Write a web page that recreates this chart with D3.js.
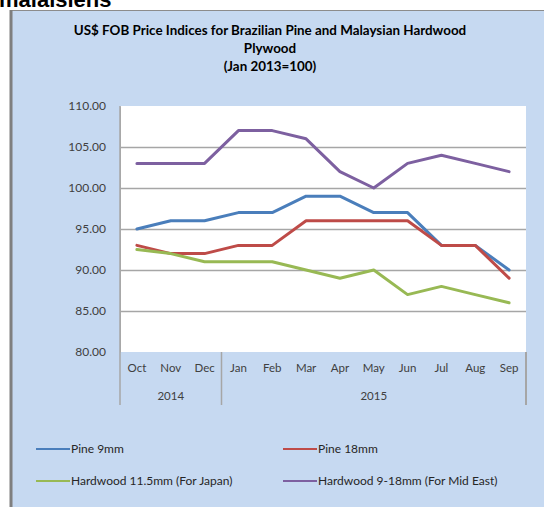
<!DOCTYPE html>
<html>
<head>
<meta charset="utf-8">
<script src="https://cdn.jsdelivr.net/npm/d3@7"></script>
<style>
  html, body { margin: 0; padding: 0; background: #fff; }
  svg { display: block; font-family: Lato, "Open Sans", sans-serif; }
</style>
</head>
<body>
<svg id="chart" width="544" height="507"></svg>
<script>
// data
const months = ["Oct", "Nov", "Dec", "Jan", "Feb", "Mar", "Apr", "May", "Jun", "Jul", "Aug", "Sep"];
const years = [
  { label: "2014", from: 0, to: 2 },
  { label: "2015", from: 3, to: 11 }
];
const pine9 = [95, 96, 96, 97, 97, 99, 99, 97, 97, 93, 93, 90];
const pine18 = [93, 92, 92, 93, 93, 96, 96, 96, 96, 93, 93, 89];
const hardwoodJapan = [92.5, 92, 91, 91, 91, 90, 89, 90, 87, 88, 87, 86];
const hardwoodMidEast = [103, 103, 103, 107, 107, 106, 102, 100, 103, 104, 103, 102];
const yTicks = [80, 85, 90, 95, 100, 105, 110];

const series = [
  { name: "Pine 9mm", values: pine9, color: "#4a7ebb" },
  { name: "Pine 18mm", values: pine18, color: "#be4b48" },
  { name: "Hardwood 11.5mm (For Japan)", values: hardwoodJapan, color: "#98b954" },
  { name: "Hardwood 9-18mm (For Mid East)", values: hardwoodMidEast, color: "#7d60a0" }
];

const svg = d3.select("#chart");

// heading above the chart, cut off at the top like the source screenshot
svg.append("text")
  .attr("x", -1).attr("y", 7)
  .attr("font-family", "Liberation Sans, Arial, sans-serif")
  .attr("font-weight", "bold").attr("font-size", 22)
  .attr("fill", "#000")
  .text("malaisiens");

// chart frame
svg.append("rect")
  .attr("x", 11.5).attr("y", 10.5)
  .attr("width", 560).attr("height", 520)
  .attr("fill", "#c6d9f1")
  .attr("stroke", "#8c8c8c");
svg.append("line")
  .attr("x1", 11).attr("x2", 11).attr("y1", 10).attr("y2", 507)
  .attr("stroke", "#7f7f7f").attr("stroke-width", 3);

// title
const title = svg.append("text")
  .attr("text-anchor", "middle")
  .attr("font-weight", "bold").attr("font-size", 13.4)
  .attr("fill", "#000");
[["US$ FOB Price Indices for Brazilian Pine and  Malaysian Hardwood", 35],
 ["Plywood", 53],
 ["(Jan 2013=100)", 71]].forEach(([t, y]) => {
  title.append("tspan").attr("x", 270).attr("y", y).text(t);
});

const plot = { left: 120, right: 526, top: 106, bottom: 352 };

const x = d3.scaleBand()
  .domain(months)
  .range([plot.left, plot.right]);

const y = d3.scaleLinear()
  .domain([80, 110])
  .range([plot.bottom, plot.top]);

// plot background
svg.append("rect")
  .attr("x", plot.left).attr("y", plot.top)
  .attr("width", plot.right - plot.left)
  .attr("height", plot.bottom - plot.top)
  .attr("fill", "#fff");

// gridlines
svg.append("g")
  .selectAll("line")
  .data(yTicks.filter(d => d > 80 && d < 110))
  .join("line")
  .attr("x1", plot.left).attr("x2", plot.right)
  .attr("y1", d => Math.round(y(d)) + 0.5)
  .attr("y2", d => Math.round(y(d)) + 0.5)
  .attr("stroke", "#a6a6a6").attr("stroke-width", 1.5);

// y axis
const yAxis = svg.append("g")
  .attr("transform", `translate(${plot.left},0)`)
  .call(d3.axisLeft(y).tickValues(yTicks).tickFormat(d3.format(".2f")).tickSize(0).tickPadding(14));
yAxis.select(".domain").attr("stroke", "#b0b0b0");
yAxis.selectAll("text")
  .attr("font-size", 12).attr("fill", "#404040")
  .attr("font-family", "Lato, sans-serif");

// x axis: months, then years, with separators
const xAxis = svg.append("g")
  .attr("transform", `translate(0,${plot.bottom})`)
  .call(d3.axisBottom(x).tickSize(0).tickPadding(12));
xAxis.select(".domain").remove();
xAxis.selectAll("text")
  .attr("font-size", 11.5).attr("fill", "#404040")
  .attr("font-family", "Lato, sans-serif");

const sepBottom = 405;
const seps = [x(months[0]), x(months[years[1].from]), x(months[11]) + x.bandwidth()];
svg.append("g")
  .selectAll("line")
  .data(seps)
  .join("line")
  .attr("x1", d => d).attr("x2", d => d)
  .attr("y1", (d, i) => i === 0 ? plot.top : plot.bottom)
  .attr("y2", sepBottom)
  .attr("stroke", "#a6a6a6").attr("stroke-width", (d, i) => i === 2 ? 2 : 1.5);

svg.append("g")
  .selectAll("text")
  .data(years)
  .join("text")
  .attr("x", d => (x(months[d.from]) + x(months[d.to]) + x.bandwidth()) / 2)
  .attr("y", 400)
  .attr("text-anchor", "middle")
  .attr("font-size", 11.5).attr("fill", "#404040")
  .text(d => d.label);

// lines
const line = d3.line()
  .x((d, i) => x(months[i]) + x.bandwidth() / 2)
  .y(d => y(d));

svg.append("g")
  .selectAll("path")
  .data(series)
  .join("path")
  .attr("d", d => line(d.values))
  .attr("fill", "none")
  .attr("stroke", d => d.color)
  .attr("stroke-width", 3)
  .attr("stroke-linejoin", "round")
  .attr("stroke-linecap", "round");

// legend
const legendPos = [[36, 449], [283, 449], [36, 481], [283, 481]];
const legend = svg.append("g")
  .selectAll("g")
  .data(series)
  .join("g")
  .attr("transform", (d, i) => `translate(${legendPos[i][0]},${legendPos[i][1]})`);
legend.append("line")
  .attr("x1", 0).attr("x2", 34)
  .attr("stroke", d => d.color).attr("stroke-width", 2);
legend.append("text")
  .attr("x", 35).attr("dy", "0.35em")
  .attr("font-size", 12).attr("fill", "#262626")
  .text(d => d.name);
</script>
</body>
</html>
